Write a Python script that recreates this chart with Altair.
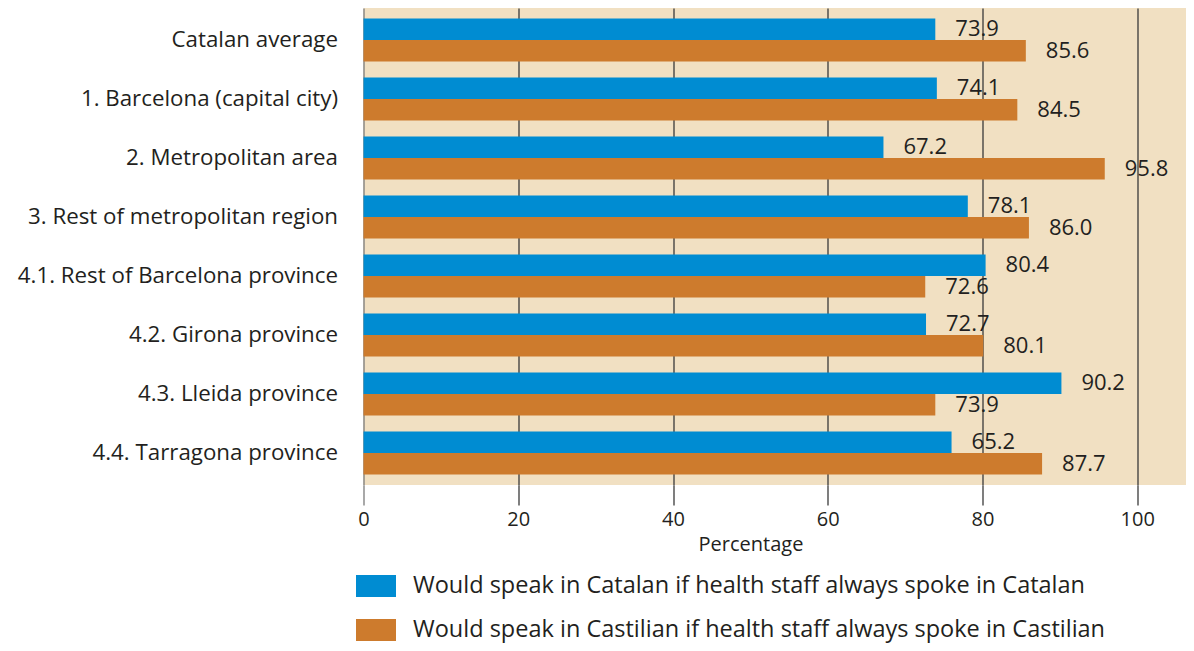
import altair as alt
import pandas as pd

categories = [
    "Catalan average",
    "1. Barcelona (capital city)",
    "2. Metropolitan area",
    "3. Rest of metropolitan region",
    "4.1. Rest of Barcelona province",
    "4.2. Girona province",
    "4.3. Lleida province",
    "4.4. Tarragona province",
]
series = [
    "Would speak in Catalan if health staff always spoke in Catalan",
    "Would speak in Castilian if health staff always spoke in Castilian",
]
catalan_values = [73.9, 74.1, 67.2, 78.1, 80.4, 72.7, 90.2, 76.0]
catalan_labels = ["73.9", "74.1", "67.2", "78.1", "80.4", "72.7", "90.2", "65.2"]
castilian_values = [85.6, 84.5, 95.8, 86.0, 72.6, 80.1, 73.9, 87.7]
castilian_labels = ["85.6", "84.5", "95.8", "86.0", "72.6", "80.1", "73.9", "87.7"]
tick_values = [0, 20, 40, 60, 80, 100]

BLUE = "#008CD2"
ORANGE = "#CD7B2D"
BG = "#F1E0C2"
TEXT = "#231F20"
FONT = "Open Sans"

rows = []
for i, c in enumerate(categories):
    rows.append({"category": c, "series": series[0], "value": catalan_values[i], "label": catalan_labels[i]})
    rows.append({"category": c, "series": series[1], "value": castilian_values[i], "label": castilian_labels[i]})
df = pd.DataFrame(rows)

x_scale = alt.Scale(domain=[0, 106.3], nice=False, zero=True)

base = alt.Chart(df).encode(
    y=alt.Y(
        "category:N",
        sort=categories,
        scale=alt.Scale(paddingInner=0.271, paddingOuter=0.178),
        axis=alt.Axis(
            title=None, domain=False, ticks=False, grid=False,
            labelPadding=26, labelFontSize=22.3, labelColor=TEXT, labelFont=FONT,
            labelLimit=500,
        ),
    ),
    yOffset=alt.YOffset("series:N", sort=series, scale=alt.Scale(paddingInner=0, paddingOuter=0)),
)

bars = base.mark_bar(opacity=1).encode(
    x=alt.X(
        "value:Q",
        scale=x_scale,
        axis=alt.Axis(
            values=tick_values, title="Percentage", domain=False,
            grid=True,
            gridColor=alt.condition("datum.value === 0", alt.value("#7a7a7a"), alt.value("#3a3a3a")),
            gridWidth=1.3,
            ticks=True, tickSize=20,
            tickColor=alt.condition("datum.value === 0", alt.value("#7a7a7a"), alt.value("#3a3a3a")),
            tickWidth=1.3,
            labelFontSize=20, labelFont=FONT, labelColor=TEXT, labelPadding=4,
            labelFlush=False,
            titleFont=FONT, titleFontSize=20, titleFontWeight="normal", titleColor=TEXT,
            titleX=387, titleY=65, titleAlign="center", titleBaseline="alphabetic",
        ),
    ),
    color=alt.Color(
        "series:N",
        scale=alt.Scale(domain=series, range=[BLUE, ORANGE]),
        legend=alt.Legend(
            title=None, orient="none", legendX=-7.5, legendY=558,
            direction="vertical",
            symbolType="M-1,-0.55H1V0.55H-1Z", symbolSize=1600,
            symbolStrokeWidth=0, symbolOpacity=1,
            labelFontSize=23.5, labelFont=FONT, labelColor=TEXT,
            labelOffset=17, labelLimit=1000, rowPadding=12, padding=0,
        ),
    ),
)

text = base.mark_text(
    align="left", baseline="middle", dx=20, fontSize=22, font=FONT, color=TEXT
).encode(
    x=alt.X("value:Q", scale=x_scale),
    text="label:N",
)

chart = (
    alt.layer(bars, text)
    .properties(
        width=822.5,
        height=477,
        autosize=alt.AutoSizeParams(type="none"),
        padding={"left": 355.5, "top": 0, "right": 0, "bottom": 159},
    )
    .configure_view(fill=BG, strokeWidth=0)
)

chart.save("out.html", embed_options={"renderer": "svg", "actions": False})
